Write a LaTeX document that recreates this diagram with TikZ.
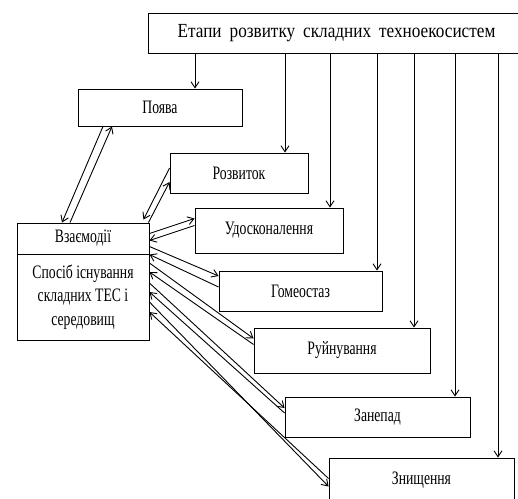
\documentclass[tikz,border=0pt]{standalone}
\usepackage{fontspec}
\setmainfont{Liberation Serif}[FakeStretch=0.72]
\newfontfamily\headfont{Liberation Serif}[FakeStretch=0.86]
\usetikzlibrary{arrows.meta}
\tikzstyle{box}=[rectangle,draw=black,line width=0.9pt,fill=white,inner sep=2pt]
\tikzstyle{arr}=[-{Straight Barb[length=6pt,width=8pt]},line width=0.9pt]

\begin{document}
\begin{tikzpicture}[x=1pt,y=-1pt,font=\fontsize{19}{23.5}\selectfont]
        \path[use as bounding box,clip] (0,0) rectangle (518,498);

        % boxes
        \node [style = box, minimum width=377pt, minimum height=40pt, font=\headfont\fontsize{20}{24}\selectfont] (etapy) at (336.5, 33) {Етапи\hspace{8pt}розвитку\hspace{8pt}складних\hspace{8pt}техноекосистем};
        \node [style = box, minimum width=164pt, minimum height=37pt] (pojava) at (160, 107.5) {Поява};
        \node [style = box, minimum width=138pt, minimum height=40pt] (rozvytok) at (239, 173) {Розвиток};
        \node [style = box, minimum width=148pt, minimum height=45pt] (udosk) at (269, 230.5) {Удосконалення};
        \node [style = box, minimum width=163pt, minimum height=40pt] (homeo) at (300.5, 291) {Гомеостаз};
        \node [style = box, minimum width=176pt, minimum height=45pt] (ruin) at (342, 350.5) {Руйнування};
        \node [style = box, minimum width=185pt, minimum height=40pt] (zanepad) at (377.5, 417) {Занепад};
        \node [style = box, minimum width=185pt, minimum height=45pt] (znysch) at (421.5, 480.5) {Знищення};

        \node [style = box, minimum width=132pt, minimum height=31pt] (vzaem) at (83, 238.5) {Взаємодії};
        \node [style = box, minimum width=132pt, minimum height=86pt, align=center] (sposib) at (83, 297) {Спосіб існування\\складних ТЕС і\\середовищ};

        % from the top box
        \draw [style = arr] ([xshift=35pt]pojava.north |- etapy.south) -- ([xshift=35pt]pojava.north);
        \draw [style = arr] ([xshift=46pt]rozvytok.north |- etapy.south) -- ([xshift=46pt]rozvytok.north);
        \draw [style = arr] ([xshift=61pt]udosk.north |- etapy.south) -- ([xshift=61pt]udosk.north);
        \draw [style = arr] ([xshift=76.5pt]homeo.north |- etapy.south) -- ([xshift=76.5pt]homeo.north);
        \draw [style = arr] ([xshift=72pt]ruin.north |- etapy.south) -- ([xshift=72pt]ruin.north);
        \draw [style = arr] ([xshift=77.5pt]zanepad.north |- etapy.south) -- ([xshift=77.5pt]zanepad.north);
        \draw [style = arr] ([xshift=76.5pt]znysch.north |- etapy.south) -- ([xshift=76.5pt]znysch.north);

        % interactions
        \draw [style = arr] ([xshift=-57pt]pojava.south) -- ([xshift=-21pt]vzaem.north);
        \draw [style = arr] ([xshift=-13pt]vzaem.north) -- ([xshift=-48pt]pojava.south);

        \draw [style = arr] ([yshift=5pt]rozvytok.west) -- ([xshift=-6pt,yshift=3pt]vzaem.north east);
        \draw [style = arr] ([xshift=-1pt]vzaem.north east) -- ([yshift=-9pt]rozvytok.west);

        \draw [style = arr] ([yshift=5pt]vzaem.east) -- ([yshift=12pt]udosk.west);
        \draw [style = arr] ([yshift=5pt]udosk.west) -- ([yshift=-2pt]vzaem.east);

        \draw [style = arr] ([yshift=-8pt]vzaem.east) -- ([yshift=15pt]homeo.west);
        \draw [style = arr] ([yshift=4pt]homeo.west) -- ([yshift=-1pt]sposib.north east);

        \draw [style = arr] ([yshift=34pt]sposib.east) -- ([yshift=12pt]ruin.west);
        \draw [style = arr] ([yshift=6pt]ruin.west) -- ([yshift=25pt]sposib.east);

        \draw [style = arr] ([yshift=14pt]sposib.east) -- ([yshift=9pt]zanepad.west);
        \draw [style = arr] ([yshift=4pt]zanepad.west) -- ([yshift=5pt]sposib.east);

        \draw [style = arr] ([yshift=-5pt]sposib.east) -- ([yshift=-6pt]znysch.west);
        \draw [style = arr] ([yshift=2pt]znysch.west) -- ([yshift=-15pt]sposib.east);
\end{tikzpicture}
\end{document}
